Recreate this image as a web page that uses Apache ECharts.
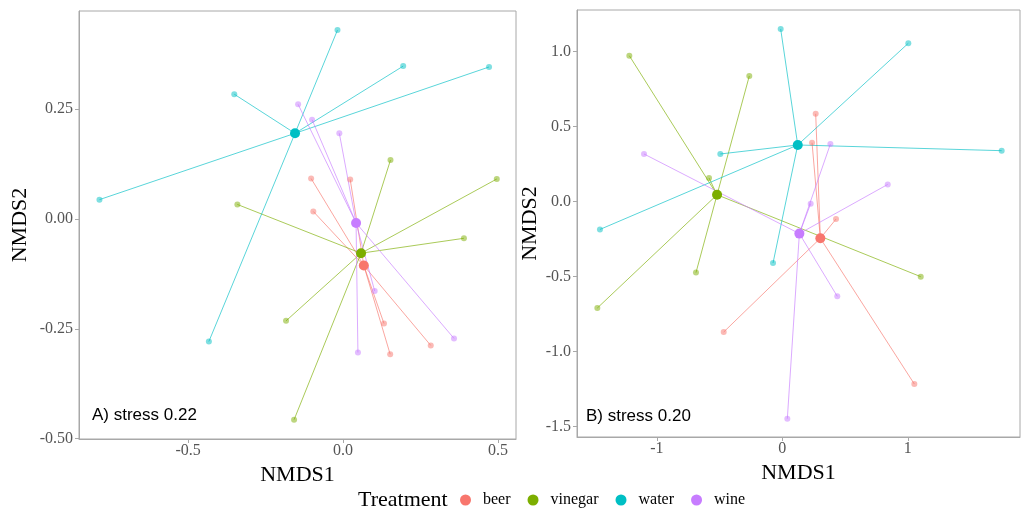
<!DOCTYPE html>
<html><head><meta charset="utf-8">
<script src="https://cdn.jsdelivr.net/npm/echarts@6/dist/echarts.min.js"></script>
<style>html,body{margin:0;padding:0;background:#fff}#c{width:1025px;height:510px}</style>
</head><body><div id="c"></div>
<script>
const treatments = ['beer', 'vinegar', 'water', 'wine'];
const palette = ['#F8766D', '#7CAE00', '#00BFC4', '#C77CFF'];

// Panel A (stress 0.22) — sample scores [NMDS1, NMDS2]
const aBeer    = [[-0.103, 0.092], [0.023, 0.090], [-0.096, 0.017], [0.132, -0.238], [0.283, -0.288], [0.152, -0.308]];
const aVinegar = [[0.153, 0.134], [0.496, 0.091], [-0.341, 0.033], [0.390, -0.044], [-0.184, -0.232], [-0.158, -0.457]];
const aWater   = [[-0.018, 0.430], [0.194, 0.348], [0.471, 0.346], [-0.351, 0.284], [-0.786, 0.044], [-0.433, -0.279]];
const aWine    = [[-0.145, 0.261], [-0.100, 0.226], [-0.012, 0.195], [0.102, -0.164], [0.358, -0.272], [0.048, -0.304]];
const aCentroids = [[0.067, -0.106], [0.058, -0.078], [-0.155, 0.195], [0.042, -0.009]];

// Panel B (stress 0.20)
const bBeer    = [[0.266, 0.585], [0.237, 0.392], [0.428, -0.117], [-0.467, -0.870], [1.052, -1.217]];
const bVinegar = [[-1.219, 0.972], [-0.263, 0.837], [-0.584, 0.157], [1.103, -0.501], [-0.688, -0.474], [-1.474, -0.710]];
const bWater   = [[-0.013, 1.150], [1.004, 1.055], [1.748, 0.339], [-0.494, 0.317], [-1.453, -0.186], [-0.074, -0.410]];
const bWine    = [[-1.102, 0.317], [0.383, 0.383], [0.840, 0.114], [0.226, -0.014], [0.438, -0.632], [0.040, -1.448]];
const bCentroids = [[0.303, -0.245], [-0.520, 0.045], [0.123, 0.377], [0.136, -0.214]];

const aXTicks = [-0.5, 0, 0.5];
const aYTicks = [-0.5, -0.25, 0, 0.25];
const bXTicks = [-1, 0, 1];
const bYTicks = [-1.5, -1, -0.5, 0, 0.5, 1];

const panels = [
  {groups: [aBeer, aVinegar, aWater, aWine], centroids: aCentroids},
  {groups: [bBeer, bVinegar, bWater, bWine], centroids: bCentroids}
];

const AX = '#a8a8a8';
const fmt = (v, d) => { const s = Number(v).toFixed(d); return (parseFloat(s) === 0) ? Number(0).toFixed(d) : s; };

function xAxisCfg(idx, min, max, ticks, dec) {
  return {
    type: 'value', gridIndex: idx, min: min, max: max, splitLine: {show: false},
    axisLine: {show: true, onZero: false, lineStyle: {color: AX, width: 1}},
    axisTick: {show: true, length: 4, lineStyle: {color: AX}, customValues: ticks},
    axisLabel: {customValues: ticks, formatter: v => fmt(v, dec), color: '#555555',
      fontFamily: 'Liberation Serif', fontSize: 16, margin: 4},
    name: 'NMDS1', nameLocation: 'middle', nameGap: 18,
    nameTextStyle: {fontFamily: 'Liberation Serif', fontSize: 22, color: '#000'}
  };
}
function yAxisCfg(idx, min, max, ticks, dec, gap) {
  return {
    type: 'value', gridIndex: idx, min: min, max: max, splitLine: {show: false},
    axisLine: {show: true, onZero: false, lineStyle: {color: AX, width: 1}},
    axisTick: {show: true, length: 4, lineStyle: {color: AX}, customValues: ticks},
    axisLabel: {customValues: ticks, formatter: v => fmt(v, dec), color: '#555555',
      fontFamily: 'Liberation Serif', fontSize: 16, margin: 6},
    name: 'NMDS2', nameLocation: 'middle', nameGap: gap,
    nameTextStyle: {fontFamily: 'Liberation Serif', fontSize: 22, color: '#000'}
  };
}

const series = [];
panels.forEach((p, pi) => {
  p.groups.forEach((pts, gi) => {
    const c = p.centroids[gi];
    series.push({
      type: 'lines', coordinateSystem: 'cartesian2d', xAxisIndex: pi, yAxisIndex: pi,
      silent: true, z: 2, polyline: false,
      lineStyle: {color: palette[gi], width: 1, opacity: 0.65},
      data: pts.map(pt => ({coords: [c, pt]}))
    });
  });
  p.groups.forEach((pts, gi) => {
    series.push({
      type: 'scatter', xAxisIndex: pi, yAxisIndex: pi, silent: true, z: 3,
      symbolSize: 6, itemStyle: {color: palette[gi], opacity: 0.5},
      data: pts
    });
  });
  p.centroids.forEach((c, gi) => {
    series.push({
      name: treatments[gi], type: 'scatter', xAxisIndex: pi, yAxisIndex: pi, z: 4,
      symbolSize: 10, itemStyle: {color: palette[gi], opacity: 1},
      data: [c]
    });
  });
});

const chart = echarts.init(document.getElementById('c'), null, {renderer: 'canvas'});
chart.setOption({
  animation: false,
  backgroundColor: '#fff',
  grid: [
    {left: 79, top: 11, width: 437, height: 428, show: true, borderColor: AX, borderWidth: 1, containLabel: false},
    {left: 577, top: 10, width: 443, height: 427, show: true, borderColor: AX, borderWidth: 1, containLabel: false}
  ],
  xAxis: [
    xAxisCfg(0, -0.852, 0.558, aXTicks, 1),
    xAxisCfg(1, -1.636, 1.894, bXTicks, 0)
  ],
  yAxis: [
    yAxisCfg(0, -0.501, 0.4735, aYTicks, 2, 48),
    yAxisCfg(1, -1.570, 1.277, bYTicks, 1, 36)
  ],
  legend: {
    data: treatments, left: 460, top: 492, padding: 0, icon: 'circle', itemWidth: 11, itemHeight: 11,
    itemGap: 17, selectedMode: false,
    textStyle: {fontFamily: 'Liberation Serif', fontSize: 16, color: '#000', padding: [0, 0, 0, 7]}
  },
  graphic: [
    {type: 'text', left: 358, top: 489, style: {text: 'Treatment', font: '22px "Liberation Serif"', fill: '#000'}},
    {type: 'text', left: 92, top: 407, style: {text: 'A) stress 0.22', font: '17px "Liberation Sans"', fill: '#000'}},
    {type: 'text', left: 586, top: 408, style: {text: 'B) stress 0.20', font: '17px "Liberation Sans"', fill: '#000'}}
  ],
  series: series
});
</script></body></html>
